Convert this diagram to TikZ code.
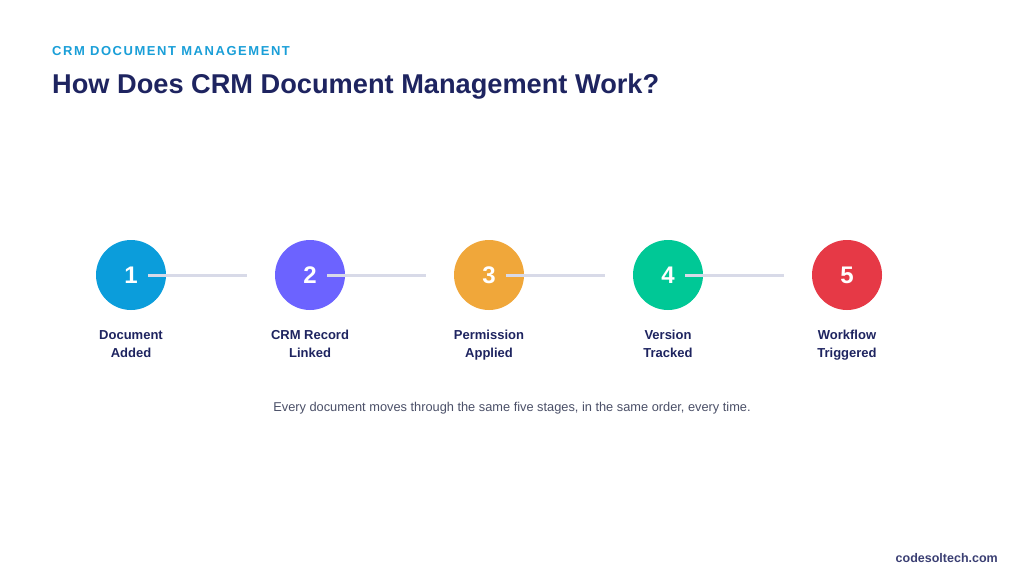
\documentclass[tikz,border=0pt]{standalone}
\usepackage{fontspec}
\setmainfont{Liberation Sans}
\usetikzlibrary{positioning,calc}

\definecolor{kickerblue}{HTML}{1A9FD8}
\definecolor{navy}{HTML}{1E2460}
\definecolor{linkgray}{HTML}{D8DAE8}
\definecolor{notegray}{HTML}{4B5068}
\definecolor{sitenavy}{HTML}{3B3F73}
\definecolor{sone}{HTML}{0B9DDB}
\definecolor{stwo}{HTML}{6C63FF}
\definecolor{sthree}{HTML}{F0A73A}
\definecolor{sfour}{HTML}{00C896}
\definecolor{sfive}{HTML}{E63946}

\tikzset{
  stage/.style={circle, minimum size=70pt, inner sep=0pt, text=white,
    font=\bfseries\fontsize{24}{24}\selectfont},
  stagelabel/.style={align=center, text=navy, anchor=north, inner sep=0pt,
    font=\bfseries\fontsize{13}{18}\selectfont},
  link/.style={line width=3pt, color=linkgray}
}
\newcommand{\tallrule}{\rule{0pt}{12pt}}

\begin{document}
\begin{tikzpicture}[x=1pt,y=-1pt]
    \fill[white] (0,0) rectangle (1024,584);
    \useasboundingbox (0,0) rectangle (1024,584);

    \node[anchor=base west, inner sep=0pt, text=kickerblue,
      font=\bfseries\fontsize{13}{13}\selectfont\addfontfeature{LetterSpace=12}]
      (kicker) at (52,55) {CRM DOCUMENT MANAGEMENT};
    \node[anchor=base west, inner sep=0pt, text=navy,
      font=\bfseries\fontsize{27.2}{27.2}\selectfont]
      (title) at (52,93) {How Does CRM Document Management Work?};

    \node[stage, fill=sone] (s1) at (131,275) {1};
    \node[stage, fill=stwo] (s2) at (310,275) {2};
    \node[stage, fill=sthree] (s3) at (489,275) {3};
    \node[stage, fill=sfour] (s4) at (668,275) {4};
    \node[stage, fill=sfive] (s5) at (847,275) {5};

    \draw[link] ($(s1)+(17,0)$) -- ($(s1)+(116,0)$);
    \draw[link] ($(s2)+(17,0)$) -- ($(s2)+(116,0)$);
    \draw[link] ($(s3)+(17,0)$) -- ($(s3)+(116,0)$);
    \draw[link] ($(s4)+(17,0)$) -- ($(s4)+(116,0)$);

    \node[stagelabel] (l1) at (131,327) {\tallrule Document\\Added};
    \node[stagelabel] (l2) at (310,327) {\tallrule CRM Record\\Linked};
    \node[stagelabel] (l3) at (489,327) {\tallrule Permission\\Applied};
    \node[stagelabel] (l4) at (668,327) {\tallrule Version\\Tracked};
    \node[stagelabel] (l5) at (847,327) {\tallrule Workflow\\Triggered};

    \node[anchor=base, inner sep=0pt, text=notegray,
      font=\fontsize{12.8}{12.8}\selectfont]
      (note) at (512,411) {Every document moves through the same five stages, in the same order, every time.};
    \node[anchor=base east, inner sep=0pt, text=sitenavy,
      font=\bfseries\fontsize{12.5}{12.5}\selectfont]
      (site) at (998,562) {codesoltech.com};
\end{tikzpicture}
\end{document}
